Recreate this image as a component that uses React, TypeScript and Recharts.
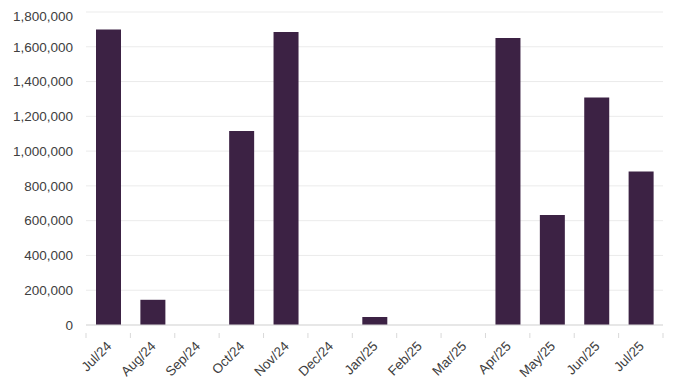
import React from "react";
import { BarChart, Bar, XAxis, YAxis, CartesianGrid } from "recharts";

const months = ["Jul/24", "Aug/24", "Sep/24", "Oct/24", "Nov/24", "Dec/24", "Jan/25", "Feb/25", "Mar/25", "Apr/25", "May/25", "Jun/25", "Jul/25"];
const values = [1700000, 145000, 0, 1115000, 1685000, 0, 46000, 0, 0, 1650000, 632000, 1308000, 883000];
const yTicks = [0, 200000, 400000, 600000, 800000, 1000000, 1200000, 1400000, 1600000, 1800000];

const data = months.map((m, i) => ({ month: m, value: values[i] }));

const W = 664;
const H = 377;
const LEFT = 78;
const RIGHT_M = 9;
const HALF_BAND = (W - LEFT - RIGHT_M) / months.length / 2;
const FONT = "Liberation Sans, Arial, sans-serif";

const XTick = (props: any) => {
  const { x, y, payload, index } = props;
  const half = payload && payload.offset ? payload.offset : HALF_BAND;
  const last = index === months.length - 1;
  return (
    <g>
      <line x1={x - half} x2={x - half} y1={y} y2={y + 5} stroke="#d9d9d9" />
      {last && <line x1={x + half} x2={x + half} y1={y} y2={y + 5} stroke="#d9d9d9" />}
      <g transform={`translate(${x + 4},${y + 14})`}>
        <text x={0} y={0} textAnchor="end" transform="rotate(-45)" fill="#404040" fontSize={13.4} fontFamily={FONT}>
          {payload.value}
        </text>
      </g>
    </g>
  );
};

export default function App() {
  return (
    <BarChart width={W} height={H} data={data} margin={{ top: 4, right: RIGHT_M, left: 0, bottom: 0 }}>
      <CartesianGrid vertical={false} stroke="#ebebeb" />
      <XAxis
        dataKey="month"
        interval={0}
        tickLine={false}
        axisLine={{ stroke: "#d9d9d9" }}
        tick={<XTick />}
        height={60}
      />
      <YAxis
        width={LEFT}
        domain={[0, 1800000]}
        ticks={yTicks}
        axisLine={false}
        tickLine={false}
        tickSize={0}
        tickMargin={13}
        tickFormatter={(v: number) => v.toLocaleString("en-US")}
        tick={{ fill: "#404040", fontSize: 13.5, fontFamily: FONT }}
      />
      <Bar dataKey="value" fill="#3c2244" barSize={25} isAnimationActive={false} />
    </BarChart>
  );
}
